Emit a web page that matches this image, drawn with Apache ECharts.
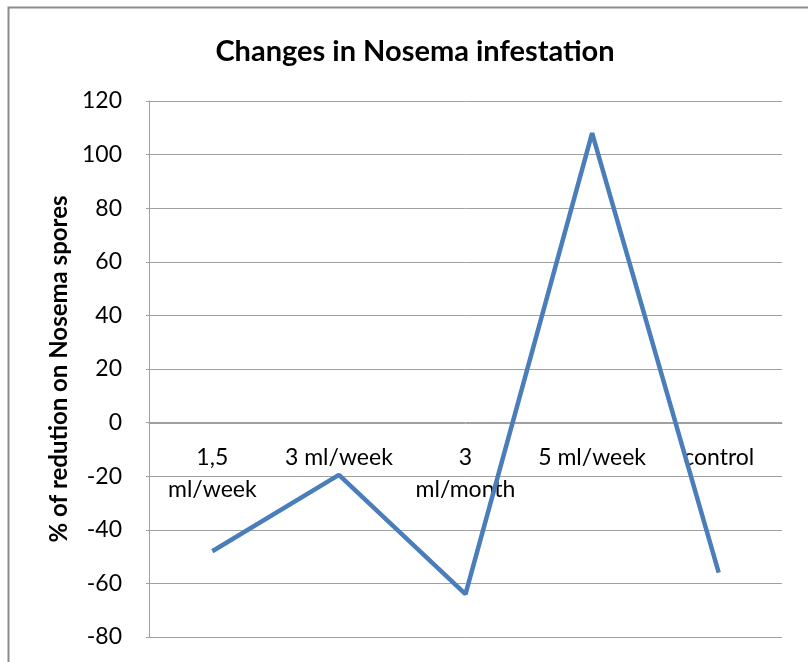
<!DOCTYPE html>
<html>
<head>
<meta charset="utf-8">
<script src="https://cdn.jsdelivr.net/npm/echarts@6/dist/echarts.min.js"></script>
<style>
	html, body { margin: 0; padding: 0; background: #fff; }
	#chart { width: 808px; height: 662px; }
</style>
</head>
<body>
<div id="chart"></div>
<script>
const categories = ["1,5\nml/week", "3 ml/week", "3\nml/month", "5 ml/week", "control"];
const reduction = [-48, -19.5, -64, 108, -56];
const yTicks = { min: -80, max: 120, interval: 20 };

// grid spans 101..637 px, so the zero line sits 214 px above the bottom
const zeroOffset = -214;

const chart = echarts.init(document.getElementById("chart"));
chart.setOption({
	animation: false,
	textStyle: { fontFamily: "Lato" },
	graphic: [
		{
			type: "rect",
			shape: { x: 8.5, y: 7.5, width: 820, height: 680 },
			style: { fill: "none", stroke: "#8c8c8c", lineWidth: 2 }
		}
	],
	title: {
		text: "Changes in Nosema infestation",
		left: 410,
		textAlign: "center",
		top: 32,
		textStyle: { fontFamily: "Lato", fontSize: 29, fontWeight: "bold", color: "#000" }
	},
	grid: { left: 149, right: 26, top: 101, bottom: 25, containLabel: false, outerBoundsMode: "none" },
	xAxis: {
		type: "category",
		data: categories,
		boundaryGap: true,
		position: "bottom",
		offset: zeroOffset,
		axisLine: { onZero: false, lineStyle: { color: "#a0a0a0", width: 1 } },
		axisTick: { show: false },
		axisLabel: { color: "#000", fontSize: 23, lineHeight: 32, margin: 19, interval: 0 }
	},
	yAxis: {
		type: "value",
		min: yTicks.min,
		max: yTicks.max,
		interval: yTicks.interval,
		name: "% of redution on Nosema spores",
		nameLocation: "middle",
		nameGap: 76,
		nameTextStyle: { fontSize: 24, fontWeight: "bold", color: "#000" },
		axisLine: { show: true, lineStyle: { color: "#a0a0a0" } },
		axisTick: { show: true, length: 3, lineStyle: { color: "#a0a0a0" } },
		axisLabel: { color: "#000", fontSize: 23, margin: 27 },
		splitLine: { lineStyle: { color: "#a0a0a0", width: 1 } }
	},
	series: [
		{
			type: "line",
			data: reduction,
			symbol: "none",
			lineStyle: { color: "#4a7ebb", width: 4.5 },
			z: 3
		}
	]
});
</script>
</body>
</html>
